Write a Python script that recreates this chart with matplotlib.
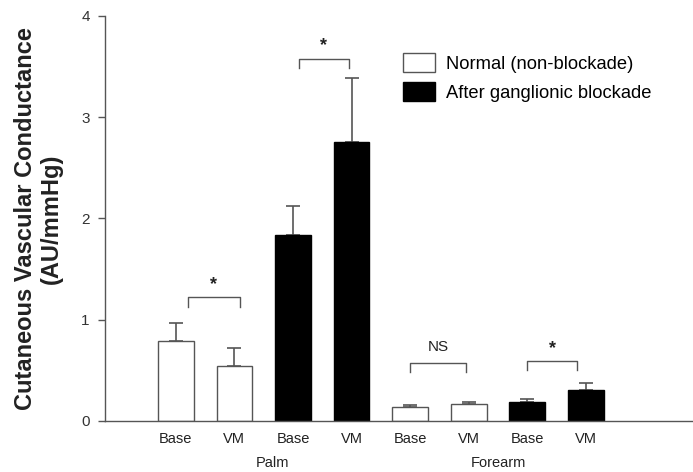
import numpy as np
import matplotlib
matplotlib.use("Agg")
import matplotlib.pyplot as plt
from matplotlib.patches import Patch

plt.rcParams['font.family'] = ['Liberation Sans', 'DejaVu Sans']

# data
conditions = ['Base', 'VM', 'Base', 'VM', 'Base', 'VM', 'Base', 'VM']
means = [0.79, 0.54, 1.84, 2.76, 0.14, 0.17, 0.19, 0.31]
sems = [0.18, 0.18, 0.28, 0.63, 0.02, 0.02, 0.03, 0.07]
blockade = [False, False, True, True, False, False, True, True]
sites = ['Palm', 'Forearm']
site_pos = [1.65, 5.5]

# significance brackets: (left, right, top, label)
brackets = [(0.2, 1.1, 1.22, '*'), (2.1, 2.95, 3.58, '*'),
            (4.0, 4.95, 0.57, 'NS'), (6.0, 6.85, 0.59, '*')]

gray = '#555555'

fig = plt.figure(figsize=(6.93, 4.72), dpi=100)
ax = fig.add_axes([105 / 693, 1 - 421 / 472, 588 / 693, 405 / 472])

x = np.arange(len(means))
colors = ['black' if b else 'white' for b in blockade]
edges = ['black' if b else gray for b in blockade]
ax.bar(x, means, width=0.61, color=colors, edgecolor=edges, linewidth=1.0, zorder=2)
ax.errorbar(x, means, yerr=[np.zeros(len(sems)), sems], fmt='none',
            ecolor=gray, elinewidth=1.2, capsize=5, capthick=1.2, zorder=1)

for l, r, top, lab in brackets:
    drop = 0.09
    ax.plot([l, l, r, r], [top - drop, top, top, top - drop], color=gray, lw=1.0)
    if lab == '*':
        ax.text((l + r) / 2, top + 0.13, '*', ha='center', va='center',
                fontsize=13, fontweight='bold', color='#222222')
    else:
        ax.text((l + r) / 2, top + 0.16, lab, ha='center', va='center',
                fontsize=11, color='#222222')

ax.set_xlim(-1.21, 8.83)
ax.set_ylim(0, 4)
ax.set_yticks([0, 1, 2, 3, 4])
ax.set_xticks(x)
ax.set_xticklabels(conditions, fontsize=10.5, color='#222222')
ax.tick_params(axis='x', length=0, pad=8)
ax.tick_params(axis='y', length=5, width=1, color=gray, labelsize=11,
               labelcolor='#333333', pad=6)
for s in ['top', 'right']:
    ax.spines[s].set_visible(False)
for s in ['left', 'bottom']:
    ax.spines[s].set_color(gray)
    ax.spines[s].set_linewidth(1.0)

for name, p in zip(sites, site_pos):
    ax.text(p, -0.41, name, ha='center', va='center', fontsize=10.5,
            color='#222222', transform=ax.transData, clip_on=False)

ax.set_ylabel('Cutaneous Vascular Conductance\n(AU/mmHg)', fontsize=17,
              fontweight='bold', color='#222222', labelpad=13, linespacing=1.2)

handles = [Patch(facecolor='white', edgecolor=gray, label='Normal (non-blockade)'),
           Patch(facecolor='black', edgecolor='black', label='After ganglionic blockade')]
fig.legend(handles=handles, loc='upper left', bbox_to_anchor=(396 / 693, 1 - 46 / 472),
           frameon=False, fontsize=13.2, handlelength=1.75, handleheight=1.2,
           handletextpad=0.6, labelspacing=0.5, borderaxespad=0)

fig.savefig('out.png', dpi=100)
